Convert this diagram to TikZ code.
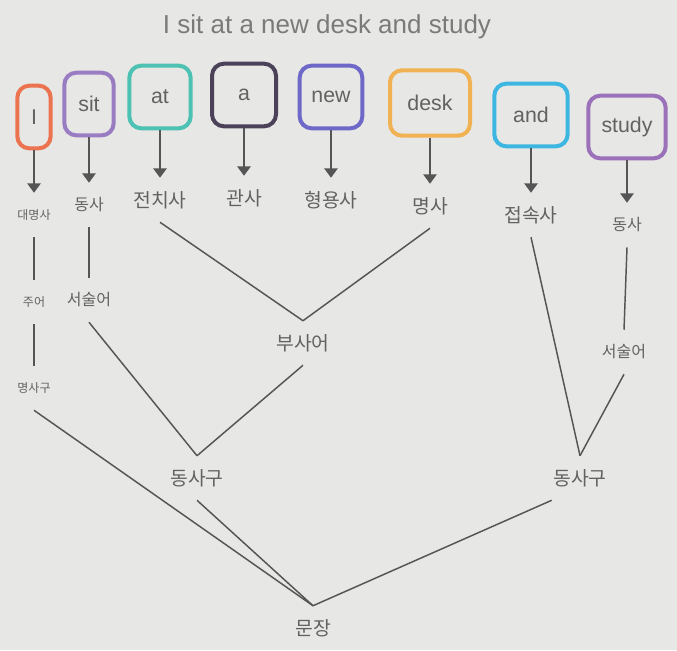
\documentclass[tikz,border=0pt]{standalone}
\usepackage{fontspec}
\setmainfont{Liberation Sans}
\newfontfamily\krfont{Noto Sans CJK KR}
\usetikzlibrary{arrows.meta}
\definecolor{paper}{HTML}{E7E7E5}
\definecolor{txtg}{HTML}{626262}
\definecolor{lineg}{HTML}{555555}
\definecolor{cI}{HTML}{EC7350}
\definecolor{cSit}{HTML}{9A7CC2}
\definecolor{cAt}{HTML}{4EC2B2}
\definecolor{cA}{HTML}{4B4159}
\definecolor{cNew}{HTML}{6E69C9}
\definecolor{cDesk}{HTML}{F1B254}
\definecolor{cAnd}{HTML}{3DB6E2}
\definecolor{cStudy}{HTML}{9B72BA}

\begin{document}
\begin{tikzpicture}[x=0.75pt, y=-0.75pt,
  wd/.style={draw, line width=3pt, rounded corners=9pt, minimum height=47pt, inner sep=0pt, text=txtg, font=\fontsize{16}{16}\selectfont},
  lbl/.style={text=txtg, minimum height=33pt, inner sep=1pt, font=\krfont\fontsize{14.5}{14.5}\selectfont},
  lblm/.style={lbl, font=\krfont\fontsize{12}{12}\selectfont},
  lbls/.style={lbl, font=\krfont\fontsize{9}{9}\selectfont},
  arr/.style={-{Triangle[length=7pt,width=10pt]}, line width=1.1pt, draw=lineg, fill=lineg},
  edge/.style={line width=1.1pt, draw=lineg}]
  \fill[paper] (0,0) rectangle (677,650);
  \useasboundingbox (0,0) rectangle (677,650);
  \node[text=txtg!85, font=\fontsize{19.5}{19.5}\selectfont] (title) at (327,27) {I sit at a new desk and study};
  % words
  \node[wd, draw=cI, minimum width=25pt] (wI) at (34,117) {I};
  \node[wd, draw=cSit, minimum width=37pt] (wSit) at (89,104) {sit};
  \node[wd, draw=cAt, minimum width=46pt] (wAt) at (160,97) {at};
  \node[wd, draw=cA, minimum width=48pt] (wA) at (244,95) {a};
  \node[wd, draw=cNew, minimum width=47pt] (wNew) at (331,97) {new};
  \node[wd, draw=cDesk, minimum width=60pt, minimum height=49pt] (wDesk) at (430,103) {desk};
  \node[wd, draw=cAnd, minimum width=55pt] (wAnd) at (531,115) {and};
  \node[wd, draw=cStudy, minimum width=58pt] (wStudy) at (627,127) {study};
  % parts of speech
  \node[lbls] (pI) at (34,215) {대명사};
  \node[lblm] (pSit) at (89,205) {동사};
  \node[lbl] (pAt) at (160,200) {전치사};
  \node[lbl] (pA) at (244,198) {관사};
  \node[lbl] (pNew) at (331,200) {형용사};
  \node[lbl] (pDesk) at (430,206) {명사};
  \node[lbl] (pAnd) at (531,215) {접속사};
  \node[lblm] (pStudy) at (627,225) {동사};
  \foreach \w/\p in {wI/pI, wSit/pSit, wAt/pAt, wA/pA, wNew/pNew, wDesk/pDesk, wAnd/pAnd, wStudy/pStudy}
    \draw[arr] (\w.south) -- (\p.north);
  % phrases
  \node[lbls] (subj) at (34,302) {주어};
  \node[lbls] (np) at (34,388) {명사구};
  \node[lblm] (predL) at (89,300) {서술어};
  \node[lbl] (adv) at (303,343) {부사어};
  \node[lblm] (predR) at (624,352) {서술어};
  \node[lbl] (vpL) at (197,478) {동사구};
  \node[lbl] (vpR) at (580,478) {동사구};
  \node[lbl] (sent) at (313,628) {문장};
  \draw[edge] (pI.south) -- (subj.north);
  \draw[edge] (subj.south) -- (np.north);
  \draw[edge] (pSit.south) -- (predL.north);
  \draw[edge] (pAt.south) -- (adv.north);
  \draw[edge] (pDesk.south) -- (adv.north);
  \draw[edge] (pStudy.south) -- (predR.north);
  \draw[edge] (predL.south) -- (vpL.north);
  \draw[edge] (adv.south) -- (vpL.north);
  \draw[edge] (pAnd.south) -- (vpR.north);
  \draw[edge] (predR.south) -- (vpR.north);
  \draw[edge] (np.south) -- (sent.north);
  \draw[edge] (vpL.south) -- (sent.north);
  \draw[edge] (vpR.south west) -- (sent.north);
\end{tikzpicture}
\end{document}
